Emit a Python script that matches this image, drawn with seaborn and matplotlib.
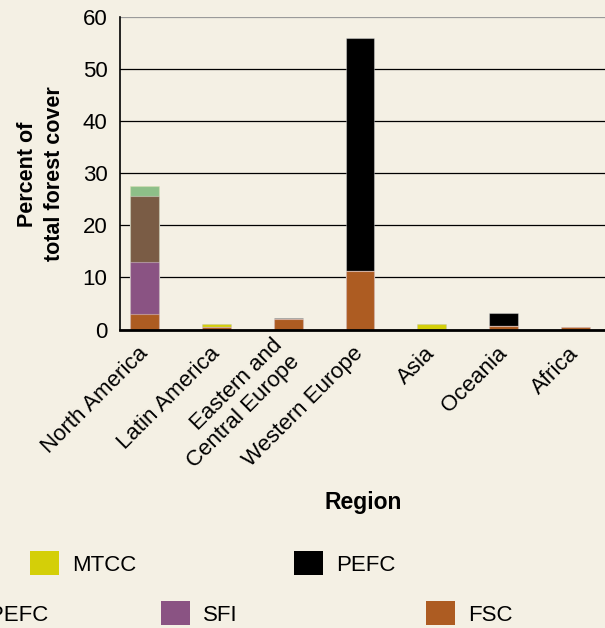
import numpy as np
import pandas as pd
import seaborn as sns
import matplotlib.pyplot as plt
from matplotlib.patches import Patch


# data (percent of total forest cover)
REGIONS = [
    "North America",
    "Latin America",
    "Eastern and\nCentral Europe",
    "Western Europe",
    "Asia",
    "Oceania",
    "Africa",
]
FSC = [3.0, 0.45, 2.0, 11.3, 0.0, 0.7, 0.45]
SFI = [10.0, 0.0, 0.0, 0.0, 0.0, 0.0, 0.0]
CSA_PEFC = [12.6, 0.0, 0.0, 0.0, 0.0, 0.0, 0.0]
ATFS_PEFC = [1.9, 0.0, 0.0, 0.0, 0.0, 0.0, 0.0]
MTCC = [0.0, 0.55, 0.0, 0.0, 1.0, 0.0, 0.0]
PEFC = [0.0, 0.0, 0.25, 44.6, 0.0, 2.5, 0.0]

Y_TICKS = [0, 10, 20, 30, 40, 50, 60]

# stacking order, bottom to top
LAYERS = [
    ("FSC", FSC, "#ad5c22"),
    ("SFI", SFI, "#8a5383"),
    ("CSA/PEFC", CSA_PEFC, "#7a5c45"),
    ("ATFS/PEFC", ATFS_PEFC, "#8dbf88"),
    ("MTCC", MTCC, "#d4cf08"),
    ("PEFC", PEFC, "#000000"),
]

BG = "#f4f0e4"

sns.set_style("white")
plt.rcParams["font.family"] = ["Liberation Sans", "DejaVu Sans"]
plt.rcParams["text.color"] = "black"
plt.rcParams["xtick.color"] = "black"
plt.rcParams["ytick.color"] = "black"


def build_frame() -> pd.DataFrame:
    df = pd.DataFrame({"region": REGIONS})
    running = np.zeros(len(REGIONS))
    for name, vals, _ in LAYERS:
        running = running + np.array(vals)
        df[name] = running
    return df


def run():
    df = build_frame()

    fig = plt.figure(figsize=(6.05, 6.28), dpi=100, facecolor=BG)
    ax = fig.add_axes([120 / 605, 1 - 329.5 / 628, 485 / 605, 312.5 / 628])
    ax.set_facecolor(BG)

    # draw cumulative totals from the top layer down so they stack visually
    for name, _, color in reversed(LAYERS):
        sns.barplot(
            data=df,
            x="region",
            y=name,
            order=REGIONS,
            color=color,
            saturation=1,
            width=0.4,
            errorbar=None,
            edgecolor=(1, 1, 1, 0.35),
            linewidth=0.8,
            ax=ax,
        )

    ax.set_ylim(0, 60)
    ax.set_xlim(-0.341, 6.41)
    ax.set_yticks(Y_TICKS)
    ax.set_yticklabels([str(t) for t in Y_TICKS], fontsize=16)
    ax.tick_params(axis="both", length=0)
    ax.tick_params(axis="y", pad=9)
    ax.tick_params(axis="x", pad=15)

    ax.set_xticks(range(len(REGIONS)))
    ax.set_xticklabels(REGIONS, fontsize=16, rotation=45, ha="right",
                       va="center", rotation_mode="anchor")

    ax.yaxis.grid(True, color="black", linewidth=0.9)
    ax.set_axisbelow(True)
    ax.get_ygridlines()[-1].set_color("#9a9a9a")

    for side in ["top", "right"]:
        ax.spines[side].set_visible(False)
    ax.spines["left"].set_color("black")
    ax.spines["left"].set_linewidth(1.2)
    ax.spines["bottom"].set_color("black")
    ax.spines["bottom"].set_linewidth(2)

    ax.set_xlabel("")
    ax.set_ylabel("")
    fig.text(41 / 605, 1 - 174 / 628, "Percent of\ntotal forest cover",
             rotation=90, ha="center", va="center", fontsize=15.5,
             fontweight="bold", linespacing=1.4)
    fig.text(363 / 605, 1 - 502 / 628, "Region", ha="center", va="center",
             fontsize=16.5, fontweight="bold")

    # legend: two staggered rows, partly running off the canvas
    colors = {name: color for name, _, color in LAYERS}
    rows = [
        (563.5, [("ATFS/PEFC", -234), ("MTCC", 30), ("PEFC", 294)]),
        (613.5, [("CSA/PEFC", -104), ("SFI", 161), ("FSC", 426)]),
    ]
    for y, items in rows:
        for name, x in items:
            fig.legend(
                handles=[Patch(facecolor=colors[name], edgecolor="none", label=name)],
                loc="center left",
                bbox_to_anchor=(x / 605, 1 - y / 628),
                frameon=False,
                fontsize=16,
                borderpad=0,
                borderaxespad=0,
                handlelength=1.3,
                handleheight=1.3,
                handletextpad=0.6,
            )

    fig.savefig("out.png", dpi=100, facecolor=BG)


if __name__ == "__main__":
    run()
